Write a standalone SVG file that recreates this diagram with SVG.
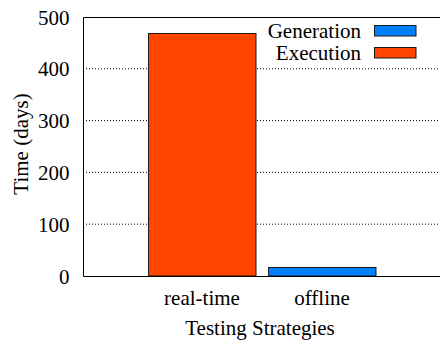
<svg xmlns="http://www.w3.org/2000/svg" width="440" height="341" viewBox="0 0 440 341">
  <style>
    text { font-family: "Liberation Serif", "Times New Roman", serif; font-size: 21px; fill: #000; }
    .grid { stroke: #000; stroke-width: 1; stroke-dasharray: 1 2; fill: none; }
    .axis { stroke: #000; stroke-width: 1; fill: none; }
    .gen { fill: #0080ff; stroke: #1a1a1a; stroke-width: 1; }
    .exe { fill: #ff4500; stroke: #1a1a1a; stroke-width: 1; }
  </style>
  <rect width="440" height="341" fill="#fff"/>

  <!-- horizontal grid lines -->
  <g id="grid">
    <line class="grid" x1="83" y1="224.2" x2="440" y2="224.2"/>
    <line class="grid" x1="83" y1="172.4" x2="440" y2="172.4"/>
    <line class="grid" x1="83" y1="120.6" x2="440" y2="120.6"/>
    <line class="grid" x1="83" y1="68.8" x2="440" y2="68.8"/>
  </g>

  <!-- bars -->
  <g id="bar-realtime-execution">
    <rect class="exe" x="148.5" y="33.5" width="107.5" height="242.5"/>
  </g>
  <g id="bar-offline-generation">
    <rect class="gen" x="268.5" y="267.5" width="107.5" height="8.5"/>
  </g>

  <!-- plot frame -->
  <g id="frame">
    <polyline class="axis" points="440,17.5 83.5,17.5 83.5,276.5 440,276.5"/>
  </g>

  <!-- y-axis tick labels -->
  <g id="y-ticks" text-anchor="end">
    <text x="69.5" y="283.5">0</text>
    <text x="69.5" y="231.7">100</text>
    <text x="69.5" y="179.9">200</text>
    <text x="69.5" y="128.1">300</text>
    <text x="69.5" y="76.3">400</text>
    <text x="69.5" y="24.8">500</text>
  </g>

  <!-- x-axis category labels -->
  <g id="x-ticks" text-anchor="middle">
    <text x="202" y="305">real-time</text>
    <text x="322" y="305">offline</text>
  </g>

  <!-- axis titles -->
  <text id="x-title" x="260" y="335" text-anchor="middle">Testing Strategies</text>
  <text id="y-title" transform="translate(28,144) rotate(-90)" text-anchor="middle">Time (days)</text>

  <!-- legend -->
  <g id="legend">
    <g id="legend-generation">
      <text x="361" y="38" text-anchor="end">Generation</text>
      <rect class="gen" x="374.5" y="25.5" width="41.5" height="10.5"/>
    </g>
    <g id="legend-execution">
      <text x="361" y="59.5" text-anchor="end">Execution</text>
      <rect class="exe" x="374.5" y="47.5" width="41.5" height="10.5"/>
    </g>
  </g>
</svg>
